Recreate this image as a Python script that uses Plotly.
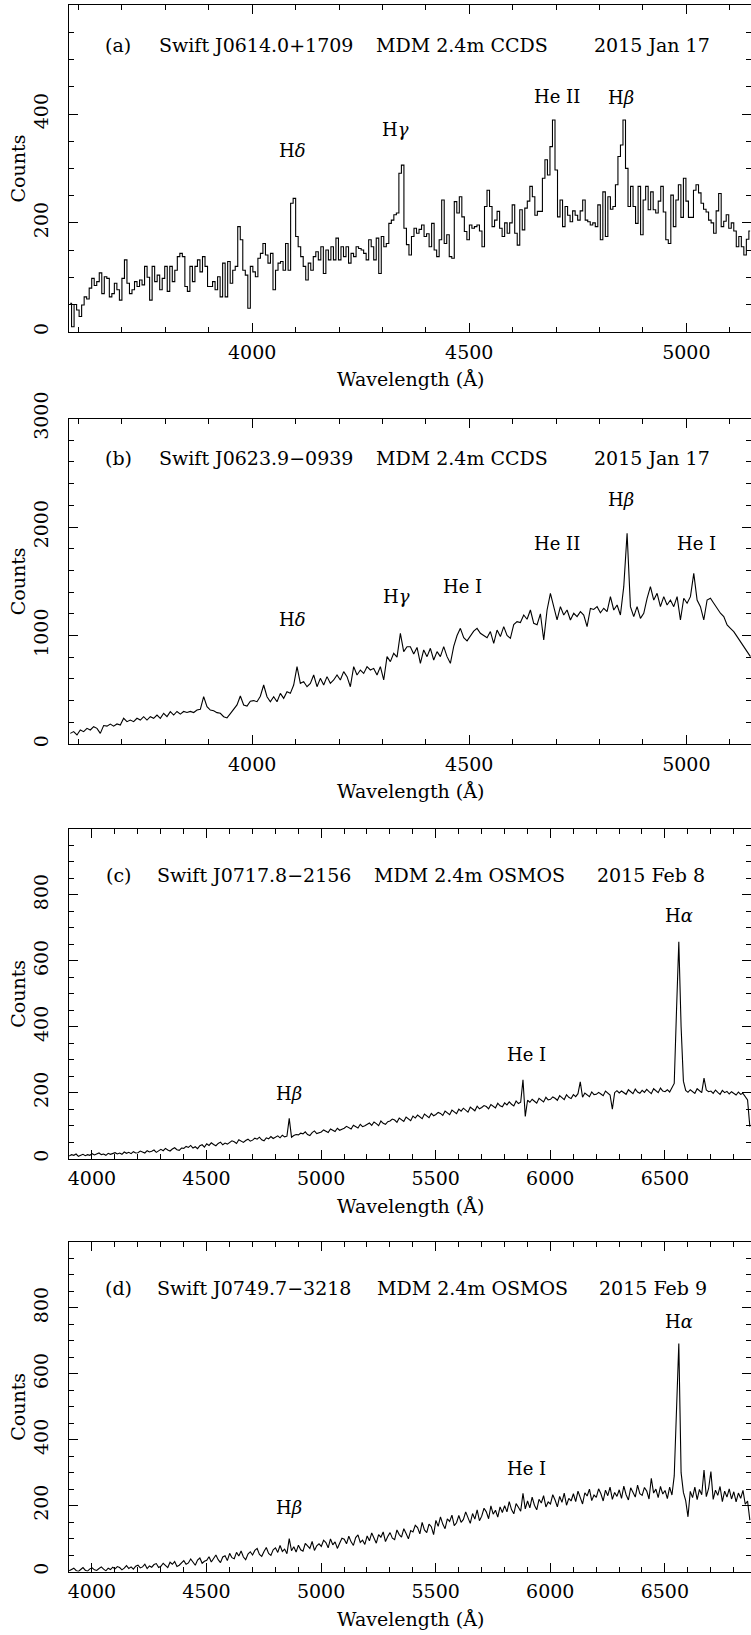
import plotly.graph_objects as go
import numpy as np

# ---------------- data ----------------
# (a) Swift J0614.0+1709, binned spectrum (step plot)
A_START, A_STEP = 3581.0, 5.8
counts_a = [52, 9, 50, 40, 28, 49, 64, 60, 80, 98, 85,
            92, 108, 70, 101, 98, 64, 70, 89, 77, 58, 98, 132, 89, 70, 77, 92, 83, 95, 86, 120, 100,
            58, 120, 92, 104, 77, 98, 120, 74, 120, 92, 113, 138, 144, 138, 83, 74, 120, 92, 120, 132, 110,
            138, 120, 83, 83, 92, 77, 101, 64, 126, 64, 129, 89, 113, 120, 193, 169, 113, 104, 43, 120, 110,
            101, 135, 144, 162, 141, 126, 144, 77, 113, 126, 129, 113, 162, 113, 236, 245, 175, 156, 138, 120,
            95, 126, 113, 138, 147, 132, 156, 107, 150, 132, 156, 132, 172, 132, 156, 138, 156, 126, 144, 138,
            156, 153, 150, 144, 132, 169, 156, 132, 172, 107, 175, 156, 162, 199, 205, 215, 218, 291, 306,
            190, 160, 141, 175, 190, 181, 188, 196, 175, 180,
            156, 199, 150, 138, 169, 242, 162, 178, 138, 135,
            239, 218, 248, 211, 184, 169, 196, 190, 193, 196,
            185, 156, 230, 260, 230, 193, 205, 221, 190, 175,
            200, 181, 200, 233, 181, 159, 224, 187, 227, 240,
            267, 248, 214, 221, 221, 282, 316, 288, 340, 389,
            297, 211, 242, 193, 230, 214, 202, 222, 214, 205,
            222, 242, 205, 202, 196, 200, 193, 233, 169, 257,
            175, 248, 225, 230, 270, 322, 343, 389, 300, 230,
            267, 230, 199, 267, 178, 242, 267, 224, 257, 224,
            218, 240, 267, 220, 169, 162, 251, 193, 242, 270,
            210, 282, 240, 210, 210, 260, 270, 255, 236, 225,
            220, 205, 200, 181, 222, 254, 193, 203, 215, 190,
            200, 185, 156, 175, 156, 141, 170, 185]

# (b) Swift J0623.9-0939
B_START, B_STEP = 3581.0, 7.68
counts_b = [98, 114, 83, 129, 114, 144, 129, 160, 144, 98,
            170, 165, 184, 165, 185, 175, 237, 206, 221, 206,
            237, 221, 252, 221, 252, 237, 267, 237, 283, 252,
            298, 267, 300, 275, 300, 290, 300, 290, 313, 320,
            436, 344, 313, 307, 289, 283, 252, 240, 280, 320,
            360, 442, 360, 350, 395, 400, 390, 440, 544, 436,
            390, 436, 390, 467, 421, 482, 467, 544, 713, 559,
            575, 528, 559, 636, 528, 605, 544, 621, 559, 590,
            636, 590, 667, 621, 528, 713, 636, 682, 651, 713,
            682, 697, 636, 713, 590, 805, 759, 836, 800, 1020,
            851, 897,
            897, 830, 890, 744, 867, 805, 882, 774, 851, 805,
            897, 805, 744, 900, 1000, 1066, 980, 950, 1000, 1040,
            1066, 1020, 1000, 980, 1036, 928, 1050, 990, 1082, 1000,
            974, 1100, 1128, 1120, 1189, 1150, 1235, 1112, 1100, 1200,
            959, 1235, 1389, 1266, 1143, 1266, 1189, 1235, 1143, 1205,
            1174, 1220, 1189, 1082, 1250, 1240, 1266, 1210, 1251, 1220,
            1358, 1235, 1281, 1189, 1450, 1942, 1266, 1174, 1266, 1158,
            1205, 1343, 1450, 1327, 1389, 1266, 1358, 1281, 1327, 1266,
            1358, 1143, 1343, 1297, 1358, 1573, 1327, 1266, 1143, 1327,
            1343, 1297, 1251, 1205, 1174, 1097, 1066, 1036, 990, 944,
            897, 851, 805]

# (c) and (d): OSMOS spectra
CD_START, CD_STEP = 3901.0, 10.0
counts_c = [8, 12, 10, 14, 7, 11, 13, 9, 12, 10,
            15, 11, 13, 17, 12, 14, 10, 16, 13, 15,
            18, 14, 17, 13, 20, 16, 19, 15, 21, 17,
            18, 23, 21, 17, 24, 20, 22, 26, 19, 23,
            28, 24, 31, 26, 23, 29, 33, 27, 25, 32,
            31, 37, 34, 40, 32, 36, 30, 39, 42, 35,
            45, 40, 48, 43, 39, 46, 50, 42, 47, 44,
            48, 54, 51, 46, 57, 52, 49, 55, 59, 53,
            56, 62, 59, 65, 57, 54, 63, 60, 67, 61,
            64, 69, 63, 71, 66, 68, 122, 65, 70, 73,
            72, 77, 75, 81, 73, 70, 79, 84, 76, 78,
            81, 87, 83, 79, 90, 85, 82, 92, 86, 89,
            92, 98, 95, 90, 101, 96, 93, 104, 97, 100,
            103, 108, 101, 111, 106, 100, 114, 107, 104, 112,
            114, 120, 117, 110, 123, 118, 113, 126, 119, 115,
            129, 123, 132, 127, 121, 135, 128, 124, 137, 130,
            134, 140, 137, 131, 144, 138, 133, 147, 141, 136,
            150, 144, 153, 147, 141, 156, 149, 145, 159, 151,
            155, 161, 158, 151, 164, 159, 154, 168, 160, 157,
            169, 163, 172, 165, 160, 175, 167, 171, 239, 128,
            177, 171, 180, 174, 168, 183, 176, 172, 186, 178,
            180, 187, 183, 177, 191, 185, 179, 194, 186, 182,
            194, 188, 197, 233, 186, 199, 192, 188, 202, 194,
            195, 201, 196, 191, 205, 198, 193, 150, 200, 206,
            199, 205, 201, 195, 209, 203, 197, 211, 202, 198,
            207, 201, 210, 203, 197, 212, 206, 200, 214, 205,
            203, 209, 202, 214, 228, 450, 658, 400, 235, 207,
            201, 209, 204, 198, 212, 206, 200, 244, 208, 203,
            205, 198, 208, 201, 195, 207, 200, 204, 196, 203,
            199, 193, 202, 195, 198, 189, 178, 97]

counts_d = [2, 7, 10, 3, 0, 6, 12, 4, 1, 8,
            11, 5, 3, 9, 14, 7, 2, 10, 6, 13,
            8, 15, 12, 5, 10, 18, 9, 14, 7, 16,
            19, 11, 14, 22, 9, 17, 13, 21, 24, 12,
            16, 25, 18, 12, 28, 22, 30, 15, 19, 27,
            33, 22, 26, 38, 30, 19, 35, 41, 25, 31,
            34, 45, 29, 40, 50, 36, 27, 44, 48, 33,
            55, 42, 39, 58, 47, 62, 44, 36, 53, 60,
            50, 64, 70, 52, 46, 61, 73, 55, 49, 66,
            72, 58, 79, 61, 68, 54, 100, 63, 75, 59,
            80, 66, 62, 85, 77, 70, 91, 64, 78, 84,
            76, 95, 88, 72, 99, 81, 90, 70, 86, 101,
            98, 84, 107, 90, 79, 103, 111, 88, 95, 82,
            108, 93, 117, 99, 86, 112, 104, 120, 91, 106,
            118, 101, 97, 126, 112, 104, 130, 115, 99, 124,
            120, 140, 133, 114, 149, 126, 118, 144, 136, 112,
            155, 137, 166, 144, 130, 160, 152, 171, 139, 148,
            170, 149, 158, 181, 165, 146, 176, 159, 187, 154,
            168, 192, 181, 160, 199, 174, 186, 165, 196, 179,
            200, 181, 212, 188, 175, 206, 195, 183, 237, 190,
            214, 193, 226, 201, 187, 219, 208, 230, 196, 211,
            205, 233, 217, 196, 228, 210, 238, 201, 222, 214,
            236, 212, 244, 221, 205, 239, 229, 250, 215, 232,
            225, 251, 236, 214, 247, 230, 256, 219, 240, 228,
            248, 222, 259, 233, 217, 254, 241, 226, 262, 236,
            231, 255, 244, 220, 283, 238, 250, 224, 258, 235,
            246, 221, 256, 232, 290, 480, 692, 300, 240, 215,
            166, 243, 224, 256, 218, 249, 233, 308, 227, 252,
            303, 219, 247, 231, 258, 212, 244, 226, 251, 220,
            242, 211, 238, 222, 246, 204, 214, 156]

titles = [
    ["(a)", "Swift J0614.0+1709", "MDM 2.4m CCDS", "2015 Jan 17"],
    ["(b)", "Swift J0623.9\u22120939", "MDM 2.4m CCDS", "2015 Jan 17"],
    ["(c)", "Swift J0717.8\u22122156", "MDM 2.4m OSMOS", "2015 Feb 8"],
    ["(d)", "Swift J0749.7\u22123218", "MDM 2.4m OSMOS", "2015 Feb 9"],
]

line_labels = [
    [("H<i>δ</i>", 4092, 333), ("H<i>γ</i>", 4330, 372), ("He II", 4703, 432), ("H<i>β</i>", 4850, 431)],
    [("H<i>δ</i>", 4092, 1143), ("H<i>γ</i>", 4333, 1358), ("He I", 4485, 1450),
     ("He II", 4703, 1850), ("H<i>β</i>", 4850, 2255), ("He I", 5023, 1850)],
    [("H<i>β</i>", 4860, 196), ("He I", 5895, 317), ("H<i>α</i>", 6561, 737)],
    [("H<i>β</i>", 4860, 194), ("He I", 5895, 313), ("H<i>α</i>", 6561, 758)],
]

x_ranges = [[3578, 5149], [3578, 5149], [3900, 6876], [3900, 6876]]
y_ranges = [[0, 599.9], [0, 3000], [0, 999.9], [0, 999.9]]
y_dtick = [200, 1000, 200, 200]
y_minor = [50, 200, 50, 50]

# ---------------- layout geometry (pixels) ----------------
W, H = 751, 1635
LEFT = 69
tops = [5.2, 418.5, 829.0, 1242.0]
bottoms = [331.7, 744.0, 1158.6, 1571.5]
title_y = [45, 458, 875, 1288]
title_cx = [[118, 256, 462, 652], [118, 256, 462, 652], [118, 254, 470, 651], [118, 254, 472, 653]]

FONT = "DejaVu Serif"
fig = go.Figure()

lam_a = A_START + A_STEP * np.arange(len(counts_a))
lam_b = B_START + B_STEP * np.arange(len(counts_b))
lam_c = CD_START + CD_STEP * np.arange(len(counts_c))
lam_d = CD_START + CD_STEP * np.arange(len(counts_d))

series = [(lam_a, counts_a, "hvh"), (lam_b, counts_b, "linear"),
          (lam_c, counts_c, "linear"), (lam_d, counts_d, "linear")]

annotations = []
for i, (lx, ly, shape) in enumerate(series):
    n = i + 1
    xa = "x" if n == 1 else f"x{n}"
    ya = "y" if n == 1 else f"y{n}"
    fig.add_trace(go.Scatter(x=lx, y=ly, mode="lines", line=dict(color="black", width=1.1, shape=shape),
                             xaxis=xa, yaxis=ya, showlegend=False, hoverinfo="skip"))
    # invisible trace for the right-hand tick axis
    fig.add_trace(go.Scatter(x=[None], y=[None], mode="lines", xaxis=xa, yaxis=f"y{n+4}",
                             showlegend=False, hoverinfo="skip"))
    dom_y = [1 - bottoms[i] / H, 1 - tops[i] / H]
    xkey = "xaxis" if n == 1 else f"xaxis{n}"
    ykey = "yaxis" if n == 1 else f"yaxis{n}"
    fig.update_layout(**{
        xkey: dict(domain=[LEFT / W, 1], range=x_ranges[i], anchor=ya,
                   tickmode="linear", tick0=0, dtick=500, ticks="inside", ticklen=9, tickwidth=1,
                   tickcolor="black", minor=dict(dtick=100, tick0=0, ticks="inside", ticklen=5,
                                                  tickcolor="black", tickwidth=1),
                   showline=True, linecolor="black", linewidth=1, mirror="ticks",
                   showgrid=False, zeroline=False, automargin=False,
                   tickfont=dict(family=FONT, size=19, color="black"), ticklabelstandoff=3),
        ykey: dict(domain=dom_y, range=y_ranges[i], anchor=xa,
                   tickmode="linear", tick0=0, dtick=y_dtick[i], ticks="inside", ticklen=9, tickwidth=1,
                   tickcolor="black", minor=dict(dtick=y_minor[i], tick0=0, ticks="inside", ticklen=5,
                                                  tickcolor="black", tickwidth=1),
                   showline=True, linecolor="black", linewidth=1, mirror=False,
                   showgrid=False, zeroline=False, automargin=False, tickangle=-90,
                   tickfont=dict(family=FONT, size=19, color="black"), ticklabelstandoff=12),
        f"yaxis{n+4}": dict(domain=dom_y, range=y_ranges[i], anchor=xa, overlaying=ya, side="right",
                            tickmode="linear", tick0=0, dtick=y_dtick[i], ticks="inside", ticklen=9,
                            tickcolor="black",
                            minor=dict(dtick=y_minor[i], tick0=0, ticks="inside", ticklen=5, tickcolor="black"),
                            showticklabels=False, showline=False, showgrid=False, zeroline=False),
    })
    # axis titles
    annotations.append(dict(text="Counts", xref="paper", yref="paper", x=18 / W,
                            y=1 - (tops[i] + bottoms[i]) / 2 / H, textangle=-90, showarrow=False,
                            font=dict(family=FONT, size=19, color="black"), xanchor="center", yanchor="middle"))
    annotations.append(dict(text="Wavelength (Å)", xref="paper", yref="paper", x=410 / W,
                            y=1 - (bottoms[i] + 47) / H, showarrow=False,
                            font=dict(family=FONT, size=19, color="black"), xanchor="center", yanchor="middle"))
    # panel titles
    for txt, cx in zip(titles[i], title_cx[i]):
        annotations.append(dict(text=txt, xref="paper", yref="paper", x=cx / W, y=1 - title_y[i] / H,
                                showarrow=False, font=dict(family=FONT, size=19, color="black"),
                                xanchor="center", yanchor="middle"))
    # line labels
    for txt, lx0, ly0 in line_labels[i]:
        annotations.append(dict(text=txt, xref=xa, yref=ya, x=lx0, y=ly0, showarrow=False,
                                font=dict(family=FONT, size=18, color="black"),
                                xanchor="center", yanchor="middle"))

fig.update_layout(width=W, height=H, margin=dict(l=0, r=0, t=0, b=0),
                  paper_bgcolor="white", plot_bgcolor="white", annotations=annotations,
                  showlegend=False)

fig.write_html("out.html", config={"displayModeBar": False},
               post_script="document.body.style.margin='0px';")
